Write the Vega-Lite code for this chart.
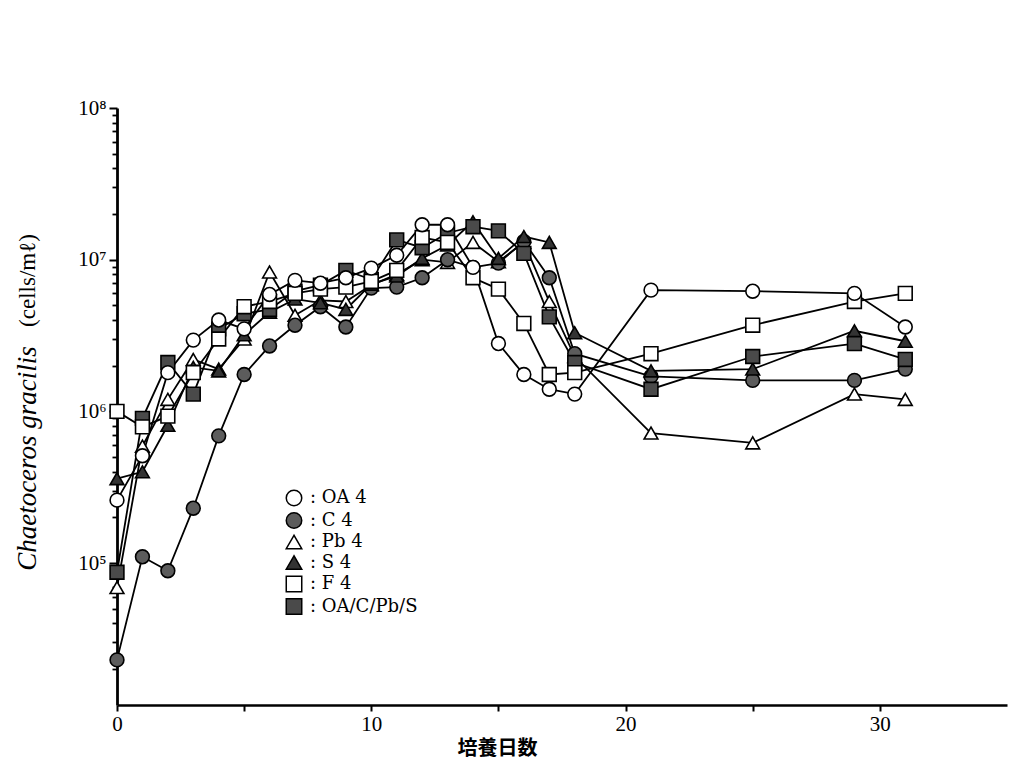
{
  "$schema": "https://vega.github.io/schema/vega-lite/v6.json",
  "width": 890,
  "height": 597,
  "autosize": {"type": "none"},
  "padding": {"left": 117, "top": 108, "right": 6, "bottom": 58},
  "background": "white",
  "config": {
    "view": {"stroke": null},
    "axis": {
      "domainColor": "black",
      "tickColor": "black",
      "labelColor": "black",
      "titleColor": "black",
      "grid": false,
      "labelFont": "Liberation Serif",
      "titleFont": "Liberation Serif"
    }
  },
  "data": {
    "values": [
      {"s": "Pb 4", "d": 0, "v": 69000}, {"s": "Pb 4", "d": 1, "v": 590000}, {"s": "Pb 4", "d": 2, "v": 1200000},
      {"s": "Pb 4", "d": 3, "v": 2200000}, {"s": "Pb 4", "d": 4, "v": 1900000}, {"s": "Pb 4", "d": 5, "v": 3000000},
      {"s": "Pb 4", "d": 6, "v": 8300000}, {"s": "Pb 4", "d": 7, "v": 4300000}, {"s": "Pb 4", "d": 8, "v": 5400000},
      {"s": "Pb 4", "d": 9, "v": 5300000}, {"s": "Pb 4", "d": 10, "v": 6800000}, {"s": "Pb 4", "d": 11, "v": 8000000},
      {"s": "Pb 4", "d": 12, "v": 10000000}, {"s": "Pb 4", "d": 13, "v": 9600000}, {"s": "Pb 4", "d": 14, "v": 13000000},
      {"s": "Pb 4", "d": 15, "v": 9700000}, {"s": "Pb 4", "d": 16, "v": 13000000}, {"s": "Pb 4", "d": 17, "v": 5300000},
      {"s": "Pb 4", "d": 18, "v": 2300000}, {"s": "Pb 4", "d": 21, "v": 720000}, {"s": "Pb 4", "d": 25, "v": 620000},
      {"s": "Pb 4", "d": 29, "v": 1300000}, {"s": "Pb 4", "d": 31, "v": 1200000},

      {"s": "C 4", "d": 0, "v": 23000}, {"s": "C 4", "d": 1, "v": 110000}, {"s": "C 4", "d": 2, "v": 89000},
      {"s": "C 4", "d": 3, "v": 230000}, {"s": "C 4", "d": 4, "v": 690000}, {"s": "C 4", "d": 5, "v": 1750000},
      {"s": "C 4", "d": 6, "v": 2700000}, {"s": "C 4", "d": 7, "v": 3700000}, {"s": "C 4", "d": 8, "v": 4900000},
      {"s": "C 4", "d": 9, "v": 3600000}, {"s": "C 4", "d": 10, "v": 6500000}, {"s": "C 4", "d": 11, "v": 6600000},
      {"s": "C 4", "d": 12, "v": 7600000}, {"s": "C 4", "d": 13, "v": 10000000}, {"s": "C 4", "d": 14, "v": 8900000},
      {"s": "C 4", "d": 15, "v": 9500000}, {"s": "C 4", "d": 16, "v": 13200000}, {"s": "C 4", "d": 17, "v": 7600000},
      {"s": "C 4", "d": 18, "v": 2400000}, {"s": "C 4", "d": 21, "v": 1700000}, {"s": "C 4", "d": 25, "v": 1600000},
      {"s": "C 4", "d": 29, "v": 1600000}, {"s": "C 4", "d": 31, "v": 1900000},

      {"s": "S 4", "d": 0, "v": 360000}, {"s": "S 4", "d": 1, "v": 400000}, {"s": "S 4", "d": 2, "v": 810000},
      {"s": "S 4", "d": 3, "v": 1950000}, {"s": "S 4", "d": 4, "v": 1850000}, {"s": "S 4", "d": 5, "v": 3200000},
      {"s": "S 4", "d": 6, "v": 4500000}, {"s": "S 4", "d": 7, "v": 5500000}, {"s": "S 4", "d": 8, "v": 5200000},
      {"s": "S 4", "d": 9, "v": 4700000}, {"s": "S 4", "d": 10, "v": 6900000}, {"s": "S 4", "d": 11, "v": 7800000},
      {"s": "S 4", "d": 12, "v": 10200000}, {"s": "S 4", "d": 13, "v": 12500000}, {"s": "S 4", "d": 14, "v": 17800000},
      {"s": "S 4", "d": 15, "v": 10200000}, {"s": "S 4", "d": 16, "v": 14200000}, {"s": "S 4", "d": 17, "v": 13000000},
      {"s": "S 4", "d": 18, "v": 3300000}, {"s": "S 4", "d": 21, "v": 1850000}, {"s": "S 4", "d": 25, "v": 1900000},
      {"s": "S 4", "d": 29, "v": 3400000}, {"s": "S 4", "d": 31, "v": 2900000},

      {"s": "OA/C/Pb/S", "d": 0, "v": 87000}, {"s": "OA/C/Pb/S", "d": 1, "v": 900000}, {"s": "OA/C/Pb/S", "d": 2, "v": 2100000},
      {"s": "OA/C/Pb/S", "d": 3, "v": 1300000}, {"s": "OA/C/Pb/S", "d": 4, "v": 3500000}, {"s": "OA/C/Pb/S", "d": 5, "v": 4400000},
      {"s": "OA/C/Pb/S", "d": 6, "v": 4700000}, {"s": "OA/C/Pb/S", "d": 7, "v": 6200000}, {"s": "OA/C/Pb/S", "d": 8, "v": 6800000},
      {"s": "OA/C/Pb/S", "d": 9, "v": 8500000}, {"s": "OA/C/Pb/S", "d": 10, "v": 7400000}, {"s": "OA/C/Pb/S", "d": 11, "v": 13500000},
      {"s": "OA/C/Pb/S", "d": 12, "v": 12000000}, {"s": "OA/C/Pb/S", "d": 13, "v": 15000000}, {"s": "OA/C/Pb/S", "d": 14, "v": 16500000},
      {"s": "OA/C/Pb/S", "d": 15, "v": 15500000}, {"s": "OA/C/Pb/S", "d": 16, "v": 11000000}, {"s": "OA/C/Pb/S", "d": 17, "v": 4200000},
      {"s": "OA/C/Pb/S", "d": 18, "v": 2100000}, {"s": "OA/C/Pb/S", "d": 21, "v": 1400000}, {"s": "OA/C/Pb/S", "d": 25, "v": 2300000},
      {"s": "OA/C/Pb/S", "d": 29, "v": 2800000}, {"s": "OA/C/Pb/S", "d": 31, "v": 2200000},

      {"s": "F 4", "d": 0, "v": 1000000}, {"s": "F 4", "d": 1, "v": 790000}, {"s": "F 4", "d": 2, "v": 930000},
      {"s": "F 4", "d": 3, "v": 1800000}, {"s": "F 4", "d": 4, "v": 3000000}, {"s": "F 4", "d": 5, "v": 4900000},
      {"s": "F 4", "d": 6, "v": 5300000}, {"s": "F 4", "d": 7, "v": 6000000}, {"s": "F 4", "d": 8, "v": 6400000},
      {"s": "F 4", "d": 9, "v": 6600000}, {"s": "F 4", "d": 10, "v": 7200000}, {"s": "F 4", "d": 11, "v": 8500000},
      {"s": "F 4", "d": 12, "v": 14000000}, {"s": "F 4", "d": 13, "v": 13000000}, {"s": "F 4", "d": 14, "v": 7600000},
      {"s": "F 4", "d": 15, "v": 6400000}, {"s": "F 4", "d": 16, "v": 3800000}, {"s": "F 4", "d": 17, "v": 1750000},
      {"s": "F 4", "d": 18, "v": 1800000}, {"s": "F 4", "d": 21, "v": 2400000}, {"s": "F 4", "d": 25, "v": 3700000},
      {"s": "F 4", "d": 29, "v": 5300000}, {"s": "F 4", "d": 31, "v": 6000000},

      {"s": "OA 4", "d": 0, "v": 260000}, {"s": "OA 4", "d": 1, "v": 510000}, {"s": "OA 4", "d": 2, "v": 1800000},
      {"s": "OA 4", "d": 3, "v": 2950000}, {"s": "OA 4", "d": 4, "v": 4000000}, {"s": "OA 4", "d": 5, "v": 3500000},
      {"s": "OA 4", "d": 6, "v": 5900000}, {"s": "OA 4", "d": 7, "v": 7300000}, {"s": "OA 4", "d": 8, "v": 7000000},
      {"s": "OA 4", "d": 9, "v": 7600000}, {"s": "OA 4", "d": 10, "v": 8800000}, {"s": "OA 4", "d": 11, "v": 10700000},
      {"s": "OA 4", "d": 12, "v": 17000000}, {"s": "OA 4", "d": 13, "v": 17000000}, {"s": "OA 4", "d": 14, "v": 8900000},
      {"s": "OA 4", "d": 15, "v": 2800000}, {"s": "OA 4", "d": 16, "v": 1750000}, {"s": "OA 4", "d": 17, "v": 1400000},
      {"s": "OA 4", "d": 18, "v": 1300000}, {"s": "OA 4", "d": 21, "v": 6300000}, {"s": "OA 4", "d": 25, "v": 6200000},
      {"s": "OA 4", "d": 29, "v": 6000000}, {"s": "OA 4", "d": 31, "v": 3600000}
    ]
  },
  "resolve": {"axis": {"y": "independent"}},
  "layer": [
    {
      "mark": {"type": "line", "color": "black", "strokeWidth": 1.8},
      "encoding": {
        "x": {
          "field": "d", "type": "quantitative",
          "scale": {"domain": [0, 35], "nice": false, "zero": false},
          "axis": {
            "values": [0, 5, 10, 15, 20, 25, 30],
            "labelExpr": "datum.value % 10 == 0 ? datum.label : ''",
            "domainWidth": 2.6, "tickWidth": 2, "tickSize": 6,
            "labelFontSize": 21, "labelPadding": 2, "labelFlush": false,
            "title": "培養日数",
            "titleFont": "Noto Sans CJK JP", "titleFontSize": 20, "titleFontWeight": "bold",
            "titleX": 380, "titleY": 43, "titleAlign": "center", "titleBaseline": "middle"
          }
        },
        "y": {
          "field": "v", "type": "quantitative",
          "scale": {"type": "log", "domain": [11600, 100000000], "nice": false},
          "axis": {
            "orient": "left", "offset": 0,
            "values": [100000, 1000000, 10000000, 100000000],
            "labelExpr": "'10' + (datum.value == 1e5 ? '\u2075' : datum.value == 1e6 ? '\u2076' : datum.value == 1e7 ? '\u2077' : '\u2078')",
            "labelFontSize": 21, "labelPadding": 3,
            "domainWidth": 2.8, "tickWidth": 2, "tickSize": 8,
            "title": "Chaetoceros gracilis",
            "titleFontStyle": "italic", "titleFontWeight": "normal", "titleFontSize": 27,
            "titleX": -90, "titleY": 350, "titleAngle": -90,
            "titleAlign": "center", "titleBaseline": "middle"
          }
        },
        "detail": {"field": "s"}
      }
    },
    {
      "mark": {"type": "point", "filled": true, "stroke": "black", "strokeWidth": 1.6, "opacity": 1, "size": 190},
      "encoding": {
        "x": {"field": "d", "type": "quantitative"},
        "y": {
          "field": "v", "type": "quantitative",
          "axis": {
            "orient": "left", "offset": 0,
            "values": [20000, 30000, 40000, 50000, 60000, 70000, 80000, 90000,
                       200000, 300000, 400000, 500000, 600000, 700000, 800000, 900000,
                       2000000, 3000000, 4000000, 5000000, 6000000, 7000000, 8000000, 9000000,
                       20000000, 30000000, 40000000, 50000000, 60000000, 70000000, 80000000, 90000000],
            "labels": false, "domain": false,
            "tickWidth": 1.8, "tickSize": 5,
            "title": "(cells/m\u2113)",
            "titleFontStyle": "normal", "titleFontWeight": "normal", "titleFontSize": 23,
            "titleX": -90, "titleY": 172, "titleAngle": -90,
            "titleAlign": "center", "titleBaseline": "middle"
          }
        },
        "shape": {
          "field": "s", "type": "nominal",
          "scale": {
            "domain": ["OA 4", "C 4", "Pb 4", "S 4", "F 4", "OA/C/Pb/S"],
            "range": ["circle", "circle", "triangle-up", "triangle-up", "square", "square"]
          },
          "legend": {
            "orient": "none", "legendX": 168, "legendY": 381,
            "title": null, "padding": 0,
            "symbolSize": 240,
            "labelFont": "DejaVu Serif", "labelFontSize": 18, "labelColor": "black",
            "labelExpr": "':  ' + datum.label",
            "labelOffset": 7, "rowPadding": 0.5,
            "encode": {"symbols": {"update": {"stroke": {"value": "black"}, "strokeWidth": {"value": 1.6}}}}
          }
        },
        "fill": {
          "field": "s", "type": "nominal",
          "scale": {
            "domain": ["OA 4", "C 4", "Pb 4", "S 4", "F 4", "OA/C/Pb/S"],
            "range": ["white", "#5c5c5c", "white", "#333333", "white", "#4a4a4a"]
          },
          "legend": {
            "orient": "none", "legendX": 168, "legendY": 381,
            "title": null, "padding": 0,
            "symbolSize": 240,
            "labelFont": "DejaVu Serif", "labelFontSize": 18, "labelColor": "black",
            "labelExpr": "':  ' + datum.label",
            "labelOffset": 7, "rowPadding": 0.5,
            "encode": {"symbols": {"update": {"stroke": {"value": "black"}, "strokeWidth": {"value": 1.6}}}}
          }
        }
      }
    }
  ]
}
